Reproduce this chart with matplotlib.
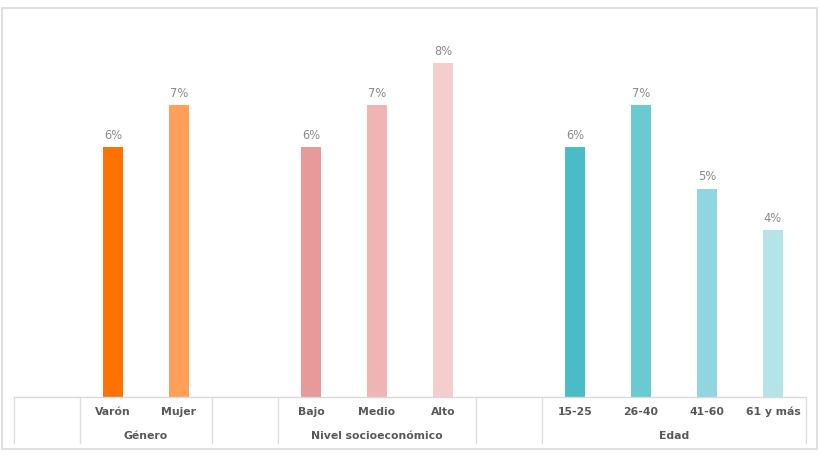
import matplotlib
matplotlib.use("Agg")
import matplotlib.pyplot as plt
from matplotlib.patches import Rectangle

# ---- data ----
group_names = ["Género", "Nivel socioeconómico", "Edad"]
group_categories = [["Varón", "Mujer"],
                    ["Bajo", "Medio", "Alto"],
                    ["15-25", "26-40", "41-60", "61 y más"]]
group_values = [[6, 7],
                [6, 7, 8],
                [6, 7, 5, 4]]
group_colors = [["#FF7200", "#FFA05A"],
                ["#E89999", "#F0B4B4", "#F4CDCD"],
                ["#4ABCC6", "#6ACAD1", "#90D6DE", "#B4E3E8"]]
value_labels = [[f"{v}%" for v in g] for g in group_values]

W, H = 819, 460
fig = plt.figure(figsize=(W / 100, H / 100), dpi=100)
fig.patch.set_facecolor("white")

def fx(px):
    return px / W

def fy(py):
    return 1 - py / H

base_y = 398
top_y = 12
px_per_unit = 41.7
ax = fig.add_axes([fx(14), fy(base_y), fx(806) - fx(14), fy(top_y) - fy(base_y)])
ax.set_ylim(0, (base_y - top_y) / px_per_unit)

# build slot layout: spacer slot before each group
slot = 0
boundaries = [-0.5]
text_color = "#595959"
for gname, cats, vals, cols, labs in zip(group_names, group_categories,
                                           group_values, group_colors, value_labels):
    slot += 1  # spacer
    boundaries.append(slot - 0.5)
    xs = list(range(slot, slot + len(cats)))
    bars = ax.bar(xs, vals, width=0.3, color=cols, zorder=2)
    for b, lab in zip(bars, labs):
        ax.annotate(lab, (b.get_x() + b.get_width() / 2, b.get_height()),
                    xytext=(0, 4.5), textcoords="offset points",
                    ha="center", va="bottom", fontsize=8.3, color="#8A8A8A")
    for x, c in zip(xs, cats):
        ax.text(x, -14 / px_per_unit, c, ha="center", va="center",
                fontsize=7.8, fontweight="bold", color=text_color)
    ax.text((xs[0] + xs[-1]) / 2, -38 / px_per_unit, gname, ha="center",
            va="center", fontsize=7.8, fontweight="bold", color=text_color)
    slot += len(cats)
    boundaries.append(slot - 0.5)

ax.set_xlim(-0.5, slot - 0.5)
ax.set_xticks([])
ax.set_yticks([])
for s in ["top", "right", "left"]:
    ax.spines[s].set_visible(False)
ax.spines["bottom"].set_color("#D9D9D9")
ax.spines["bottom"].set_linewidth(1)

line_len = 46 / px_per_unit
for b in boundaries:
    ax.plot([b, b], [0, -line_len], color="#DCDCDC", lw=1, clip_on=False, zorder=1)

# outer frame
fig.patches.append(Rectangle((fx(2), fy(450)), fx(817) - fx(2), fy(9) - fy(450),
                             transform=fig.transFigure, fill=False,
                             edgecolor="#D9D9D9", lw=1.2))

fig.savefig("out.png", dpi=100)
